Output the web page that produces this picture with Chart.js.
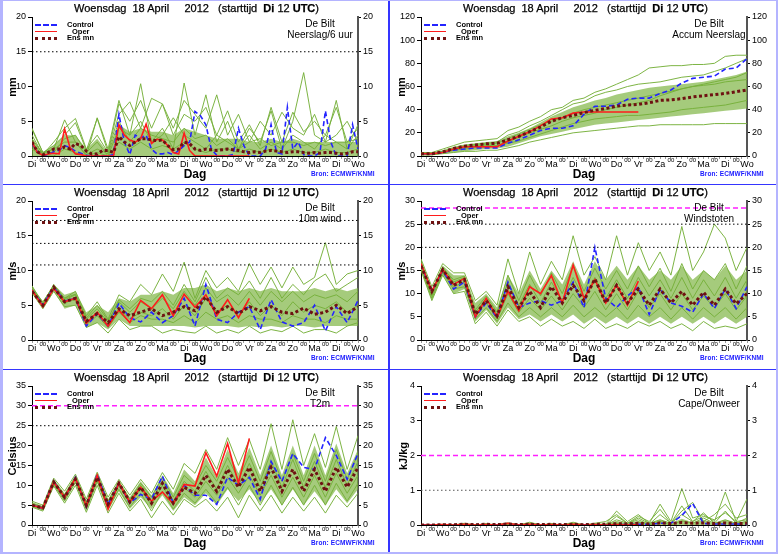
<!DOCTYPE html>
<html lang="nl">
<head>
  <meta charset="UTF-8">
  <title>EPS pluim De Bilt</title>
  <script src="https://cdn.jsdelivr.net/npm/chart.js"></script>
  <style>
    body { margin: 0; background: #fff; font-family: "Liberation Sans", Arial, sans-serif; }
    #page { position: relative; width: 778px; height: 554px; overflow: hidden; background: #fff; }
    .panel { position: absolute; width: 389px; height: 184px; }
    .panel canvas { position: absolute; left: 0; top: 0; }
    .txt { position: absolute; white-space: pre; color: #000; line-height: 1; }
    .title { left: 74px; top: 3px; font-size: 11px; -webkit-text-stroke: 0.25px #000; }
    .station { left: 260px; width: 120px; text-align: center; font-size: 10px; }
    .ytitle { font-size: 11px; font-weight: bold; transform: translate(-50%, -50%) rotate(-90deg); }
    .dag { left: 195px; top: 174px; font-size: 12px; font-weight: bold; transform: translate(-50%, -50%); }
    .bron { left: 311px; top: 171px; font-size: 6.5px; font-weight: bold; color: #1a1aff; letter-spacing: 0.1px; }
    .leg { font-size: 7.5px; font-weight: bold; }
    .sample { position: absolute; left: 35px; width: 22px; height: 0; }
    .vline { position: absolute; background: #3535ff; }
  </style>
</head>
<body>
<div id="page"></div>

<script>
  // x axis: hours after Di 12 UTC, day labels every 24 h
  const DAYS = ['Di', 'Wo', 'Do', 'Vr', 'Za', 'Zo', 'Ma', 'Di', 'Wo', 'Do', 'Vr', 'Za', 'Zo', 'Ma', 'Di', 'Wo'];

  // Neerslag/6 uur (6-hourly)
  const precCtrl = [1.8,0.6,0.1,0.2,0.6,0.8,1.5,1.2,0.7,0.4, 0.1,0,0,0,0,0.2,6.0,2.0,0.2,3.0,
                    2.6,3.0,1.0,0.3,0.3,0.5,0.2,0.8,1.5,2.0, 6.4,5.8,4.5,1.0,0.1,0,0,0.2,4.0,1.5,
                    0,0,0,1.0,4.5,0.5,0.3,7.0,1.0,2.0, 0.2,0,0,0.5,6.5,2.0,0,0,0,4.5, 1.0];
  const precOper = [2.0,0.5,0.1,0.3,0.4,0.3,3.9,1.2,0.3,0.2, 0,0,0,0,0,0,4.5,3.0,2.3,2.0,
                    2.5,4.6,1.8,2.4,2.3,1.5,0.5,0.3,3.3,0.8, 0,0,0,0,0,0,0,0,0,0, 0];
  const precMean = [2.0,0.6,0.2,0.5,1.0,1.0,1.3,1.0,1.8,1.5, 0.7,0.3,0.3,0.8,0.8,0.5,2.8,2.0,1.5,2.0,
                    2.5,2.5,2.3,2.2,2.3,1.5,0.9,1.0,2.0,1.8, 1.0,0.8,1.0,0.9,0.8,0.9,1.0,0.9,0.8,0.6,
                    0.5,0.6,0.5,0.7,0.8,0.7,0.6,0.5,0.6,0.6, 0.5,0.4,0.5,0.4,0.5,0.5,0.4,0.3,0.4,0.6, 0.6];
  // ensemble (12-hourly)
  const precHi = [2.5,0.5,1.5,3,3,1,2.5,0.5,4.5,3.5,4,3.5,3.5,3,4,3.5,3,2.5,2.5,2.5,2,2,2.5,2,2.5,2,2,2,2,2,2];
  const precLo = [0,0,0,0,0,0,0,0,0,0,0,0,0,0,0,0,0,0,0,0,0,0,0,0,0,0,0,0,0,0,0];
  const precMembers = [
    [4,0.5,1,5.2,2,0,5.5,1,8,3,10.4,2,4,1,10.5,3,8.8,2,5,1,4,2,6.5,1,5,12,3,2,8,1,3],
    [3,0.2,2,4,5.4,1,3,0.5,6,7.8,4,8.3,7.5,4,8,6,4,8.8,3,6,2,5,3,6.3,4,3,6,2,3,5,2],
    [2,0,0.5,2.5,3,0.5,2,0,4,3,5,2,3,5.5,3,2,1,3,2,1,3,1,2,1,3,2,1,3,2,1,4.5],
    [1,0,0,1,0.5,0,0.5,0,2,1,2,1,1.5,1,2,1,0.5,1,1,0.5,1,0.5,1,0.5,1,0.5,0.5,1,0.5,0.5,1],
    [3.8,0.5,1.5,3,4.8,0.8,5.4,0.5,7.5,5,8,4,7.5,3,6,5,7,3,6.5,2,4.5,1.5,7,2,6.3,3.5,5,3,7,2,4],
    [2.5,0.3,1,2,2,0.2,1,0.3,5,2,4,3,2.5,2,4,2.5,3,1.5,2.5,1,2,2.5,1.5,2,2,1.5,2,1.5,2,2,2.5]
  ];

  // Accum Neerslag (12-hourly)
  const accCtrl = [2,2,3,5,6,7,7,7,11,14,18,22,24,24,26,36,43,43,44,49,50,50,54,57,63,67,68,69,75,76,84];
  const accOper = [2,2,3,6,8,8,8,8,13,17,21,26,32,33,37,38,38,38,38,38,38];
  const accMean = [2,2,3.5,6.5,8.5,9.5,10.5,11,14,17,21,25,30,33,35,37.5,39.5,41,43,44,
                   44.5,46,48,48.5,49.5,51,52,53,54,55.5,57];
  const accHi = [3,3,5,8,10,11,12,13,17,20,24,29,34,38,42,45,48,50,53,55,57,59,60,61,62,63,64,66,68,70,73];
  const accLo = [1,1,2,3,4,5,6,6.5,8,11,14,17,19,21,23,25,27,28,29,30,31,32,33,34,35,36,37,38,39,40,41];
  const accMembers = [
    [3,3,6,9,12,13,14,15,22,25,30,34,40,42,48,50,55,58,62,66,70,76,77,78,78,79,79,80,86,87,87],
    [2,2,4,7,9,10,11,12,18,21,26,30,35,40,45,47,52,55,57,60,62,63,64,66,68,69,70,73,76,80,84],
    [1,1,2,3,4,4,5,5,7,9,12,14,16,18,20,21,22,23,24,25,26,26,27,27,27,27,27,28,28,28,28],
    [2,2,3,5,7,8,9,9,12,16,20,23,26,30,33,35,37,40,42,44,46,48,52,55,58,60,61,62,64,65,66],
    [1,1,3,5,6,7,8,9,11,13,16,19,22,25,28,30,32,33,34,35,35,36,37,38,40,41,42,43,44,46,48],
    [2,2,4,6,8,9,10,11,15,19,23,27,30,33,37,40,42,44,46,48,50,52,54,56,58,60,62,64,66,68,72]
  ];

  // 10m wind (12-hourly)
  const windCtrl = [7.2,5.0,7.6,5.6,6.0,2.0,3.8,2.0,5.3,3.2,2.6,4.0,2.5,3.5,6.0,2.0,8.0,3.0,2.5,4.0,
                    4.8,1.5,5.8,2.6,2.0,2.5,5.0,1.3,4.8,2.5,5.7];
  const windOper = [7.2,4.8,7.4,5.5,6.0,2.4,4.0,2.0,4.3,2.5,5.7,4.5,6.5,3.5,6.6,4.7,6.5,3.5,5.8,3.2,6.0];
  const windMean = [7.0,5.0,7.6,5.5,6.0,2.7,3.8,2.5,4.5,3.5,4.0,4.5,3.5,4.0,4.8,4.2,6.2,4.0,4.8,3.8,
                    4.8,4.2,4.8,4.0,3.8,4.6,3.7,4.0,5.0,3.8,4.8];
  const windHi = [7.8,5.5,8.0,6.5,7.0,4.0,5.0,4.0,6.0,5.5,6.5,6.5,7.0,6.5,7.5,7.5,8.0,7.0,7.5,7.0,
                  7.5,7.0,7.5,7.0,7.0,7.0,7.5,7.0,7.5,7.0,7.5];
  const windLo = [6.8,4.5,7.0,4.5,5.0,1.8,2.5,1.5,3.0,2.0,2.0,2.0,2.0,2.0,2.0,1.8,2.0,2.0,2.0,1.8,
                  2.0,1.8,2.0,1.8,2.0,2.0,1.8,2.0,2.0,2.0,2.0];
  const windMembers = [
    [7.8,5.2,8.0,6.0,7.0,3.5,5.5,3.0,6.5,5.5,8.0,6.5,9.5,7.0,11.2,6.0,10.0,7.5,9.0,7.0,11.0,8.0,10.5,7.5,10.5,8.0,9.0,14.0,8.0,9.5,10.0],
    [7.5,5.5,7.8,5.8,6.5,3.0,4.5,2.5,5.8,4.5,6.0,5.5,7.0,5.0,8.0,5.5,9.0,6.0,7.5,6.5,8.5,6.0,9.0,6.0,8.0,6.5,8.5,9.5,7.0,8.0,9.0],
    [6.8,4.5,7.0,4.8,5.0,1.8,2.5,1.0,3.0,1.5,2.0,2.0,1.0,1.5,1.2,1.0,2.0,1.0,1.5,1.0,2.0,1.0,1.5,1.2,2.0,1.0,1.5,1.5,1.0,2.0,2.5],
    [7.2,5.0,7.4,5.2,6.2,2.5,4.0,2.2,4.5,3.0,4.0,3.5,4.5,3.0,5.0,3.5,6.0,4.0,5.0,3.5,5.5,3.5,5.0,3.5,5.5,4.0,5.0,4.5,5.5,4.0,5.0],
    [7.0,4.8,7.6,5.5,5.8,2.2,3.5,1.8,4.0,2.5,3.5,3.0,3.0,2.5,3.5,2.5,4.0,3.0,3.5,2.5,3.5,3.0,3.0,2.5,3.5,3.0,3.0,2.5,3.5,3.0,3.0],
    [7.4,5.2,7.8,6.0,6.6,3.2,5.0,2.8,5.5,4.0,5.5,4.5,6.0,4.5,7.0,5.0,7.5,5.5,6.5,5.0,7.0,5.0,7.0,5.5,7.0,5.5,6.5,6.0,6.5,5.5,7.0]
  ];

  // Windstoten (12-hourly)
  const gustCtrl = [16.2,10.5,15.0,11.0,12.5,5.0,8.0,4.8,12.5,7.0,8.0,8.5,7.5,8.5,12.5,7.0,20.0,9.0,7.0,9.5,
                    11.4,5.5,11.0,8.0,7.3,6.0,10.0,6.8,11.0,6.8,11.5];
  const gustOper = [16.5,10.5,15.2,12.0,13.3,5.0,9.0,5.0,10.5,6.3,11.5,10.0,13.9,8.0,16.2,9.0,13.0,8.0,11.9,7.5,12.7];
  const gustMean = [16.0,10.5,15.2,11.8,13.0,5.5,8.5,5.2,11.5,7.0,10.5,7.0,11.5,8.0,11.8,8.5,13.2,8.0,11.8,8.0,
                    11.0,7.5,11.0,8.0,10.5,7.5,10.3,7.5,11.0,7.8,10.0];
  const gustHi = [17.5,11,16,14,14,8,10,7,14,10,15,11,15,12,17,12,17,13,16,13,16,13,15,13,16,13,15,13,16,13,15];
  const gustLo = [15,8.5,14,10,11,4,6.5,3.5,7,4.5,5.5,4,5.5,4,5.5,3.5,5,3.5,5,3.5,5,3.5,5,3.5,5,3.5,5,3.5,5,3.5,5];
  const gustMembers = [
    [17.5,11.5,16.5,14.5,14.5,8.5,10.5,7.5,17.5,10.0,19.0,12.0,17.0,13.0,22.5,14.0,18.0,13.0,22.5,14.0,21.0,15.0,19.0,14.0,24.5,15.0,19.0,25.0,22.0,15.0,20.0],
    [16.8,10.0,15.5,13.0,13.8,6.5,9.5,6.0,14.0,8.5,14.0,9.5,14.5,10.0,16.0,10.5,15.5,11.0,15.0,11.0,16.0,11.5,15.5,10.5,16.5,11.0,15.0,13.0,16.5,11.0,16.0],
    [15.0,8.5,14.0,10.0,10.5,3.5,6.0,3.0,6.5,4.0,5.0,3.0,4.5,3.0,4.0,2.5,4.5,2.5,3.5,2.5,4.0,3.0,4.0,2.5,3.5,2.0,4.0,2.5,3.0,2.5,3.5],
    [16.0,9.5,14.8,11.5,12.5,5.5,8.0,4.5,10.0,6.0,9.0,6.5,9.5,6.5,10.0,7.0,10.5,6.5,10.0,6.5,10.5,7.0,10.0,6.5,10.0,6.5,9.5,7.0,10.0,6.5,9.5],
    [16.5,10.5,15.8,12.5,13.5,6.0,9.0,5.5,12.5,7.5,12.0,8.0,12.5,8.5,13.5,9.0,13.5,9.0,13.0,9.0,13.5,9.5,13.0,9.0,13.5,9.0,13.0,9.5,13.5,9.0,13.0],
    [15.5,9.0,14.5,11.0,11.5,4.5,7.0,4.0,8.0,5.0,7.0,5.0,7.0,5.0,7.5,5.0,7.0,5.0,7.0,4.5,7.5,5.0,7.0,4.5,7.0,4.5,7.0,5.0,7.0,4.5,7.0]
  ];

  // T2m (12-hourly)
  const tempCtrl = [5.0,4.2,11.0,6.8,12.0,4.5,12.8,5.2,10.5,5.5,7.7,6.5,12.3,5.5,10.0,7.5,7.5,5.2,12.0,10.0,
                    12.0,6.5,16.0,11.0,18.0,14.5,14.0,22.0,17.5,11.5,18.0];
  const tempOper = [5.0,4.2,10.8,7.0,11.8,4.8,12.5,4.0,10.5,5.8,9.5,6.0,8.3,5.3,10.2,9.8,18.2,12.3,20.5,10.5,21.8];
  const tempMean = [5.0,4.3,10.8,7.0,11.5,5.0,12.0,5.2,10.5,5.8,9.5,5.5,10.5,5.5,9.5,8.0,12.5,8.5,14.0,9.5,
                    14.5,8.5,14.5,8.5,14.0,8.5,14.0,8.5,14.5,9.5,14.5];
  const tempHi = [5.8,4.8,11.5,8,12.5,6,13,6.5,11,7,11,7.5,12.5,8,14,11,17,12,19,13,19.5,12.5,20,12.5,20,12.5,20,12.5,20.5,13,19];
  const tempLo = [4.5,3.8,10,6,10.5,3.5,10.5,3.5,8.5,4,7,4,7.5,3.5,7,5,8,5,9,6,9,5.5,9,5,9,5,8.5,5,9,5.5,9];
  const tempMembers = [
    [6.0,5.0,11.8,8.5,12.8,6.5,13.3,7.0,11.5,7.5,11.5,8.0,13.2,9.0,15.5,13.0,19.0,14.0,22.0,15.0,21.5,14.0,25.5,14.0,26.5,15.0,23.0,14.5,24.8,14.0,22.5],
    [5.5,4.5,11.3,7.5,12.3,5.5,12.8,6.0,11.0,6.5,10.5,7.0,12.0,7.0,12.5,10.0,15.0,11.0,17.0,11.5,17.5,11.0,18.5,11.0,18.0,11.0,18.0,11.0,19.0,11.5,18.0],
    [4.5,3.5,9.8,5.5,10.0,3.2,10.0,3.0,8.0,3.5,6.5,1.8,6.0,2.5,6.5,4.5,6.5,3.5,7.0,1.8,7.5,3.5,7.5,3.0,7.0,3.5,7.0,3.0,7.5,4.5,8.0],
    [5.2,4.0,10.5,6.5,11.5,4.5,11.8,5.0,10.0,5.5,9.0,5.0,10.0,5.0,9.5,7.0,11.0,7.5,12.0,8.0,12.5,7.5,12.5,7.0,12.0,7.0,12.5,7.0,13.0,8.0,12.5],
    [5.0,4.2,11.0,7.0,11.8,5.0,12.2,5.5,10.5,6.0,10.0,6.0,11.0,6.0,11.0,8.5,13.5,9.0,15.0,10.0,15.5,9.5,16.0,9.5,16.5,9.5,16.0,9.5,16.5,10.0,16.0],
    [4.8,3.8,10.2,6.0,10.8,4.0,11.0,4.0,9.0,4.5,8.0,3.5,8.5,4.0,8.0,5.5,9.0,5.5,9.5,5.0,10.0,5.0,10.0,5.0,9.5,5.0,10.0,5.0,10.5,6.0,10.5]
  ];

  // Cape/Onweer (12-hourly)
  const capeCtrl = [0,0,0,0,0,0,0,0,0,0,0,0,0,0,0,0,0,0,0,0.02,0.02,0.02,0.05,0.05,0.27,0.62,0.04,0.03,0.03,0.03,0.02];
  const capeOper = [0,0,0.01,0,0.02,0,0.01,0,0.05,0,0.02,0,0.01,0,0.02,0,0.01,0,0.01,0,0.01];
  const capeMean = [0,0,0.01,0.01,0.02,0.01,0.02,0.01,0.03,0.01,0.02,0.01,0.02,0.01,0.02,0.01,0.02,0.02,0.04,0.03,
                    0.05,0.03,0.06,0.04,0.07,0.05,0.06,0.04,0.06,0.04,0.05];
  const capeHi = [0.02,0.01,0.03,0.01,0.04,0.01,0.04,0.01,0.05,0.01,0.04,0.01,0.04,0.01,0.04,0.01,0.04,0.02,0.12,0.04,
                  0.12,0.04,0.15,0.05,0.18,0.08,0.15,0.06,0.15,0.05,0.12];
  const capeLo = [0,0,0,0,0,0,0,0,0,0,0,0,0,0,0,0,0,0,0,0,0,0,0,0,0,0,0,0,0,0,0];
  const capeMembers = [
    [0,0,0.02,0,0.05,0,0.04,0,0.06,0,0.05,0,0.03,0,0.05,0,0.03,0.02,0.40,0.10,0.30,0.05,0.60,0.10,1.05,0.20,0.30,0.10,0.95,0.10,0.75],
    [0,0,0.01,0,0.02,0,0.02,0,0.04,0,0.08,0,0.02,0,0.08,0,0.05,0.10,0.30,0.05,0.25,0.10,0.45,0.05,0.40,0.65,0.10,0.30,0.60,0.20,0.30],
    [0,0,0,0,0.01,0,0.01,0,0.02,0,0.01,0,0.01,0,0.02,0,0.01,0,0.15,0.05,0.20,0.05,0.15,0.05,0.30,0.10,0.25,0.15,0.35,0.10,0.15],
    [0,0,0,0,0,0,0,0,0.01,0,0,0,0,0,0,0,0,0,0.05,0,0.08,0,0.10,0,0.12,0.05,0.20,0.05,0.15,0.05,0.10],
    [0,0,0.01,0,0.03,0,0.02,0,0.05,0,0.03,0,0.04,0,0.03,0,0.02,0,0.25,0.05,0.15,0.02,0.30,0.05,0.55,0.10,0.35,0.05,0.40,0.05,0.20]
  ];

  const FONT = '"Liberation Sans", Arial, sans-serif';
  const GREEN = 'rgba(118,176,58,0.95)';
  const BAND = 'rgba(122,178,62,0.68)';

  const panels = [
    { col: 0, row: 0, name: 'Neerslag/6 uur', unit: 'mm', min: 0, max: 20, step: 5, dt: 6,
      ctrl: precCtrl, oper: precOper, mean: precMean, hi: precHi, lo: precLo, members: precMembers,
      refs: [{ v: 15, c: '#000', d: [1.5, 2.5] }] },
    { col: 1, row: 0, name: 'Accum Neerslag', unit: 'mm', min: 0, max: 120, step: 20, dt: 12,
      ctrl: accCtrl, oper: accOper, mean: accMean, hi: accHi, lo: accLo, members: accMembers, refs: [] },
    { col: 0, row: 1, name: '10m wind', unit: 'm/s', min: 0, max: 20, step: 5, dt: 12,
      ctrl: windCtrl, oper: windOper, mean: windMean, hi: windHi, lo: windLo, members: windMembers,
      refs: [{ v: 10.8, c: '#000', d: [1.5, 2.5] }, { v: 13.9, c: '#000', d: [1.5, 2.5] }, { v: 17.2, c: '#000', d: [1.5, 2.5] }] },
    { col: 1, row: 1, name: 'Windstoten', unit: 'm/s', min: 0, max: 30, step: 5, dt: 12,
      ctrl: gustCtrl, oper: gustOper, mean: gustMean, hi: gustHi, lo: gustLo, members: gustMembers,
      refs: [{ v: 20, c: '#000', d: [1.5, 2.5] }, { v: 25, c: '#000', d: [1.5, 2.5] }, { v: 28.5, c: '#ff20ff', d: [5, 3], w: 1.5 }] },
    { col: 0, row: 2, name: 'T2m', unit: 'Celsius', min: 0, max: 35, step: 5, dt: 12,
      ctrl: tempCtrl, oper: tempOper, mean: tempMean, hi: tempHi, lo: tempLo, members: tempMembers,
      refs: [{ v: 25, c: '#000', d: [1.5, 2.5] }, { v: 30, c: '#ff20ff', d: [5, 3], w: 1.5 }] },
    { col: 1, row: 2, name: 'Cape/Onweer', unit: 'kJ/kg', min: 0, max: 4, step: 1, dt: 12,
      ctrl: capeCtrl, oper: capeOper, mean: capeMean, hi: capeHi, lo: capeLo, members: capeMembers,
      refs: [{ v: 1, c: '#555', d: [1.5, 2.5] }, { v: 2, c: '#ff20ff', d: [5, 3], w: 1.5 }] }
  ];

  const ROW_TOP = [0, 184, 369];

  function pts(arr, dt) {
    return arr.map((v, i) => ({ x: i * dt, y: v }));
  }

  // small "00" labels at 00 UTC between the day names
  const midnightLabels = {
    id: 'midnightLabels',
    afterDraw(chart) {
      const xs = chart.scales.x;
      const ctx = chart.ctx;
      ctx.save();
      ctx.font = '6px ' + FONT;
      ctx.fillStyle = '#000';
      ctx.textAlign = 'center';
      ctx.textBaseline = 'top';
      for (let h = 12; h < 360; h += 24) ctx.fillText('00', xs.getPixelForValue(h), xs.top + 1);
      ctx.restore();
    }
  };

  function addText(parent, cls, text, css) {
    const d = document.createElement('div');
    d.className = 'txt ' + cls;
    if (text !== null) d.textContent = text;
    Object.assign(d.style, css || {});
    parent.appendChild(d);
    return d;
  }

  function buildPanel(p) {
    const el = document.createElement('div');
    el.className = 'panel';
    el.style.left = (p.col * 389) + 'px';
    el.style.top = ROW_TOP[p.row] + 'px';
    document.getElementById('page').appendChild(el);

    const canvas = document.createElement('canvas');
    canvas.width = 389;
    canvas.height = 184;
    el.appendChild(canvas);

    const ds = [];
    ds.push({ data: pts(p.lo, 12), borderWidth: 0, pointRadius: 0, fill: false, order: 30 });
    ds.push({ data: pts(p.hi, 12), borderWidth: 0, pointRadius: 0, fill: '-1', backgroundColor: BAND, order: 30 });
    p.members.forEach(m => ds.push({ data: pts(m, 12), borderColor: GREEN, borderWidth: 1, pointRadius: 0, fill: false, order: 20 }));
    p.refs.forEach(r => ds.push({
      data: [{ x: 0, y: r.v }, { x: 360, y: r.v }], borderColor: r.c, borderWidth: r.w || 1,
      borderDash: r.d, pointRadius: 0, fill: false, order: -1
    }));
    ds.push({ data: pts(p.ctrl, p.dt), borderColor: '#2424ff', borderWidth: 1.6, borderDash: [5, 3], pointRadius: 0, fill: false, order: 2 });
    ds.push({ data: pts(p.oper, p.dt), borderColor: '#ff1c1c', borderWidth: 1.6, pointRadius: 0, fill: false, order: 1 });
    ds.push({ data: pts(p.mean, p.dt), borderColor: '#6e1212', borderWidth: 3, borderDash: [3, 2.5], pointRadius: 0, fill: false, order: 0 });

    const tickFont = { family: FONT, size: 9 };
    new Chart(canvas, {
      type: 'line',
      data: { datasets: ds },
      options: {
        responsive: false,
        animation: false,
        layout: { padding: { top: 17, left: 0, right: 0, bottom: 0 } },
        plugins: { legend: { display: false }, tooltip: { enabled: false } },
        elements: { line: { tension: 0 } },
        scales: {
          x: {
            type: 'linear', min: 0, max: 360, position: 'bottom',
            afterFit: s => { s.height = 28; },
            ticks: {
              stepSize: 6, autoSkip: false, maxRotation: 0, padding: 0, color: '#000', font: tickFont,
              callback: v => (v % 24 === 0 ? DAYS[v / 24] : '')
            },
            grid: { drawOnChartArea: false, drawTicks: true, tickLength: 3, color: '#999' },
            border: { color: '#000', width: 1 }
          },
          y: {
            min: p.min, max: p.max, position: 'left',
            afterFit: s => { s.width = 32; },
            ticks: { stepSize: p.step, color: '#000', font: tickFont, padding: 2 },
            grid: { drawOnChartArea: false, drawTicks: true, tickLength: 4, color: '#000' },
            border: { color: '#000', width: 1 }
          },
          y2: {
            min: p.min, max: p.max, position: 'right',
            afterFit: s => { s.width = 31; },
            ticks: { stepSize: p.step, color: '#000', font: tickFont, padding: 2 },
            grid: { drawOnChartArea: false, drawTicks: true, tickLength: 3, color: '#000' },
            border: { color: '#555', width: 2 }
          }
        }
      },
      plugins: [midnightLabels]
    });

    // texts
    const t = addText(el, 'title', null);
    t.innerHTML = 'Woensdag  18 April     2012   (starttijd  <b>Di</b> 12 <b>UTC</b>)';
    addText(el, 'station', 'De Bilt', { top: '19px' });
    addText(el, 'station', p.name, { top: '30px' });
    addText(el, 'ytitle', p.unit, { left: (p.unit === 'kJ/kg' ? 14 : 12) + 'px', top: '87px' });
    addText(el, 'dag', 'Dag');
    addText(el, 'bron', 'Bron: ECMWF/KNMI');

    // legend
    const legend = [
      { label: 'Control', y: 25, x: 67, css: { borderTop: '2px dashed #2424ff' } },
      { label: 'Oper', y: 31.7, x: 72, css: { borderTop: '1.5px solid #ff1c1c' } },
      { label: 'Ens mn', y: 38.3, x: 67, css: { borderTop: '3px dotted #6e1212' } }
    ];
    legend.forEach(l => {
      const s = document.createElement('div');
      s.className = 'sample';
      s.style.top = (l.y - 1) + 'px';
      Object.assign(s.style, l.css);
      el.appendChild(s);
      addText(el, 'leg', l.label, { left: l.x + 'px', top: (l.y - 4) + 'px' });
    });
  }

  panels.forEach(buildPanel);

  // blue frame lines between the panels
  const page = document.getElementById('page');
  [
    { left: '388px', top: '0px', width: '1.5px', height: '554px' },
    { left: '0px', top: '183.5px', width: '778px', height: '1.5px' },
    { left: '0px', top: '368.5px', width: '778px', height: '1.5px' },
    { left: '0px', top: '0px', width: '2.5px', height: '554px', background: '#b4b4ff' },
    { left: '775.5px', top: '0px', width: '2.5px', height: '554px', background: '#b4b4ff' },
    { left: '0px', top: '551.5px', width: '778px', height: '2.5px', background: '#b4b4ff' },
    { left: '0px', top: '0px', width: '778px', height: '1px', background: '#b4b4ff' }
  ].forEach(c => {
    const d = document.createElement('div');
    d.className = 'vline';
    Object.assign(d.style, c);
    page.appendChild(d);
  });
</script>
</body>
</html>
